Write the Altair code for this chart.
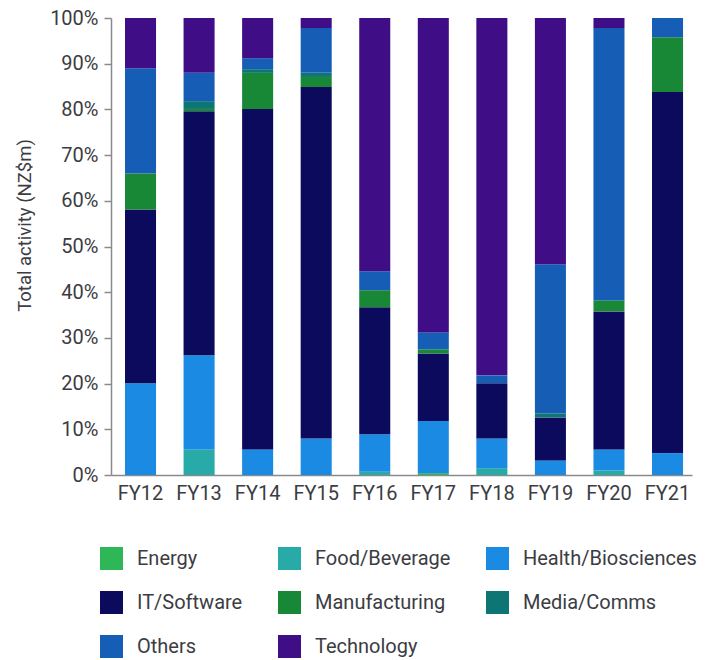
import altair as alt
import pandas as pd

# Share of total activity (NZ$m) by sector, per financial year, in percent
years = ["FY12", "FY13", "FY14", "FY15", "FY16", "FY17", "FY18", "FY19", "FY20", "FY21"]
sectors = ["Energy", "Food/Beverage", "Health/Biosciences", "IT/Software",
           "Manufacturing", "Media/Comms", "Others", "Technology"]
colors = ["#2db757", "#27aaa8", "#1a8ae3", "#0b0a5c",
          "#188736", "#0e7575", "#165db5", "#3f0e87"]

energy        = [0.0, 0.0, 0.0, 0.0, 0.0, 0.4, 0.0, 0.0, 0.0, 0.0]
food_beverage = [0.0, 5.6, 0.0, 0.0, 0.7, 0.0, 1.5, 0.0, 1.0, 0.0]
health_bio    = [20.1, 20.6, 5.6, 8.0, 8.2, 11.4, 6.5, 3.2, 4.6, 4.8]
it_software   = [38.0, 53.4, 74.5, 76.9, 27.8, 14.8, 12.1, 9.4, 30.2, 79.0]
manufacturing = [7.9, 0.5, 7.9, 2.2, 3.7, 0.9, 0.0, 0.0, 2.4, 12.0]
media_comms   = [0.0, 1.7, 0.8, 0.9, 0.0, 0.0, 0.0, 0.9, 0.0, 0.0]
others        = [23.0, 6.2, 2.4, 9.8, 4.2, 3.7, 1.7, 32.6, 59.6, 4.2]
technology    = [11.0, 12.0, 8.8, 2.2, 55.4, 68.8, 78.2, 53.9, 2.2, 0.0]

series = [energy, food_beverage, health_bio, it_software,
          manufacturing, media_comms, others, technology]

rows = []
for order, (name, values) in enumerate(zip(sectors, series)):
    for year, v in zip(years, values):
        rows.append({"year": year, "sector": name, "share": v, "order": order})
df = pd.DataFrame(rows)

FONT = "Roboto"
TEXT = "#3c3c43"
AXIS = "#8a8a8a"

chart = (
    alt.Chart(df)
    .mark_bar()
    .encode(
        x=alt.X(
            "year:N",
            sort=years,
            title=None,
            scale=alt.Scale(paddingInner=0.47, paddingOuter=0.196, align=0.61),
            axis=alt.Axis(
                labelAngle=0,
                ticks=False,
                labelPadding=8,
                labelFontSize=20,
                labelColor=TEXT,
                labelFont=FONT,
                domainColor=AXIS,
                domainWidth=1.5,
            ),
        ),
        y=alt.Y(
            "share:Q",
            stack="zero",
            scale=alt.Scale(domain=[0, 100], nice=False),
            axis=alt.Axis(
                title="Total activity (NZ$m)",
                values=list(range(0, 101, 10)),
                labelExpr="datum.value + '%'",
                grid=False,
                tickSize=7,
                tickColor=AXIS,
                tickWidth=1.5,
                domainColor=AXIS,
                domainWidth=1.5,
                labelPadding=6,
                labelFontSize=20,
                labelColor=TEXT,
                labelFont=FONT,
                titleFont=FONT,
                titleFontSize=18.5,
                titleFontWeight="normal",
                titleColor=TEXT,
                titleAngle=270,
                titleX=-87,
                titleY=207,
                titleAlign="center",
                titleBaseline="middle",
            ),
        ),
        color=alt.Color(
            "sector:N",
            scale=alt.Scale(domain=sectors, range=colors),
            legend=alt.Legend(
                title=None,
                orient="none",
                legendX=-11,
                legendY=529,
                direction="horizontal",
                columns=3,
                symbolType="square",
                symbolSize=529,
                symbolStrokeWidth=0,
                symbolOpacity=1,
                labelFont=FONT,
                labelFontSize=20,
                labelColor=TEXT,
                labelOffset=14,
                rowPadding=21,
                columnPadding=35,
                padding=0,
                labelLimit=300,
            ),
        ),
        order=alt.Order("order:Q", sort="ascending"),
    )
    .properties(
        width=581,
        height=457,
        padding={"left": 111, "top": 18, "right": 17, "bottom": 185},
        autosize=alt.AutoSizeParams(type="none"),
    )
    .configure_view(stroke=None)
)

chart.save("out.html", embed_options={"renderer": "svg", "actions": False})
